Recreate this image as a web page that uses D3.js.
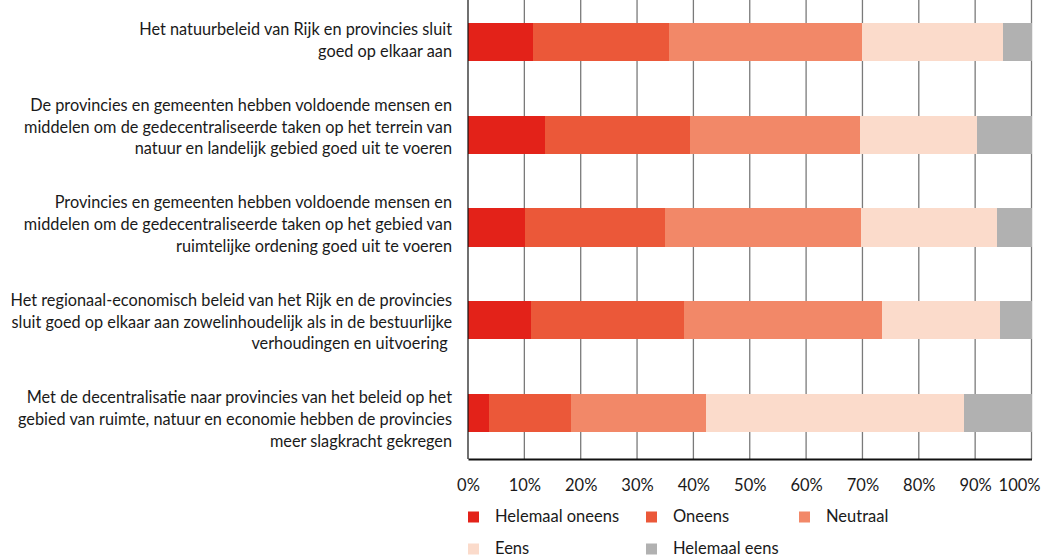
<!DOCTYPE html>
<html>
<head>
<meta charset="utf-8">
<script src="https://cdn.jsdelivr.net/npm/d3@7"></script>
<style>
  html, body { margin: 0; padding: 0; background: #fff; }
  svg { display: block; }
  text { font-family: Lato, "Open Sans", sans-serif; fill: #1a1a1a; }
</style>
</head>
<body>
<svg id="chart" width="1042" height="558"></svg>
<script>
// Statements (each drawn as wrapped lines)
const statements = [
  ["Het natuurbeleid van Rijk en provincies sluit", "goed op elkaar aan"],
  ["De provincies en gemeenten hebben voldoende mensen en", "middelen om de gedecentraliseerde taken op het terrein van", "natuur en landelijk gebied goed uit te voeren"],
  ["Provincies en gemeenten hebben voldoende mensen en", "middelen om de gedecentraliseerde taken op het gebied van", "ruimtelijke ordening goed uit te voeren"],
  ["Het regionaal-economisch beleid van het Rijk en de provincies", "sluit goed op elkaar aan zowelinhoudelijk als in de bestuurlijke", "verhoudingen en uitvoering "],
  ["Met de decentralisatie naar provincies van het beleid op het", "gebied van ruimte, natuur en economie hebben de provincies", "meer slagkracht gekregen"]
];

const answers = ["Helemaal oneens", "Oneens", "Neutraal", "Eens", "Helemaal eens"];
const answerColors = ["#e32219", "#eb5839", "#f28868", "#fbdbcb", "#b1b1b1"];

// Share of respondents per answer (%), one array per answer, in statement order
const helemaalOneens = [11.6, 13.7, 10.1, 11.1, 3.8];
const oneens         = [24.0, 25.7, 24.8, 27.3, 14.4];
const neutraal       = [34.4, 30.1, 34.8, 35.1, 24.0];
const eens           = [24.9, 20.8, 24.2, 20.9, 45.8];
const helemaalEens   = [5.1,  9.7,  6.1,  5.6,  12.0];

const tickValues = [0, 10, 20, 30, 40, 50, 60, 70, 80, 90, 100];

const seriesValues = [helemaalOneens, oneens, neutraal, eens, helemaalEens];
const rows = statements.map((s, i) => {
  const r = { id: i };
  answers.forEach((a, k) => { r[a] = seriesValues[k][i]; });
  return r;
});

const svg = d3.select("#chart");
const x0 = 468, x1 = 1031.5, yTop = -4, yBottom = 459;

const x = d3.scaleLinear().domain([0, 100]).range([x0, x1]);
const y = d3.scaleBand().domain(d3.range(statements.length)).range([yTop, yBottom]).paddingInner(0.585).paddingOuter(0.29);

// Vertical gridlines
svg.append("g")
  .selectAll("line")
  .data(tickValues.slice(1))
  .join("line")
  .attr("x1", d => x(d)).attr("x2", d => x(d))
  .attr("y1", 0).attr("y2", yBottom)
  .attr("stroke", "#7a7a7a")
  .attr("stroke-width", 1.3);

// Stacked bars
const stack = d3.stack().keys(answers)(rows);
svg.append("g")
  .selectAll("g")
  .data(stack)
  .join("g")
  .attr("fill", (d, i) => answerColors[i])
  .selectAll("rect")
  .data(d => d)
  .join("rect")
  .attr("x", d => x(d[0]))
  .attr("width", d => x(d[1]) - x(d[0]))
  .attr("y", d => y(d.data.id))
  .attr("height", y.bandwidth())
  .attr("shape-rendering", "crispEdges");

// Left axis line
svg.append("line")
  .attr("x1", x0).attr("x2", x0)
  .attr("y1", 0).attr("y2", yBottom)
  .attr("stroke", "#111").attr("stroke-width", 1.2);

// Bottom axis
const xAxis = svg.append("g")
  .attr("transform", `translate(0,${yBottom})`)
  .call(d3.axisBottom(x).tickValues(tickValues).tickFormat(d => d + "%").tickSize(0).tickPadding(20));
xAxis.select(".domain").attr("stroke", "#111").attr("stroke-width", 2.2);
xAxis.selectAll("text")
  .style("font-family", "Lato, 'Open Sans', sans-serif")
  .style("font-size", "16.5px")
  .attr("fill", "#1a1a1a");
// keep the last tick label inside the page
xAxis.selectAll(".tick").filter(d => d === 100).select("text")
  .attr("text-anchor", "end").attr("x", 8.5);

// Statement labels, bottom-aligned on an evenly spaced grid
const lineH = 21.8;
const labelY = d3.scalePoint().domain(d3.range(statements.length)).range([52.5, 442.5]);
const labels = svg.append("g");
statements.forEach((lines, i) => {
  const last = labelY(i);
  const t = labels.append("text")
    .attr("text-anchor", "end")
    .attr("font-size", "16.3px")
    .style("white-space", "pre");
  lines.forEach((ln, j) => {
    t.append("tspan")
      .attr("x", 452)
      .attr("y", last - (lines.length - 1 - j) * lineH)
      .attr("dy", "0.27em")
      .text(ln);
  });
});

// Legend
const legendPos = [[468, 517], [646, 517], [799, 517], [468, 549], [646, 549]];
const legend = svg.append("g")
  .selectAll("g")
  .data(answers)
  .join("g")
  .attr("transform", (d, i) => `translate(${legendPos[i][0]},${legendPos[i][1]})`);
legend.append("rect")
  .attr("x", 0).attr("y", -5.5)
  .attr("width", 11).attr("height", 11)
  .attr("fill", (d, i) => answerColors[i]);
legend.append("text")
  .attr("x", 27).attr("y", 0).attr("dy", "0.3em")
  .attr("font-size", "16.5px")
  .text(d => d);
</script>
</body>
</html>
